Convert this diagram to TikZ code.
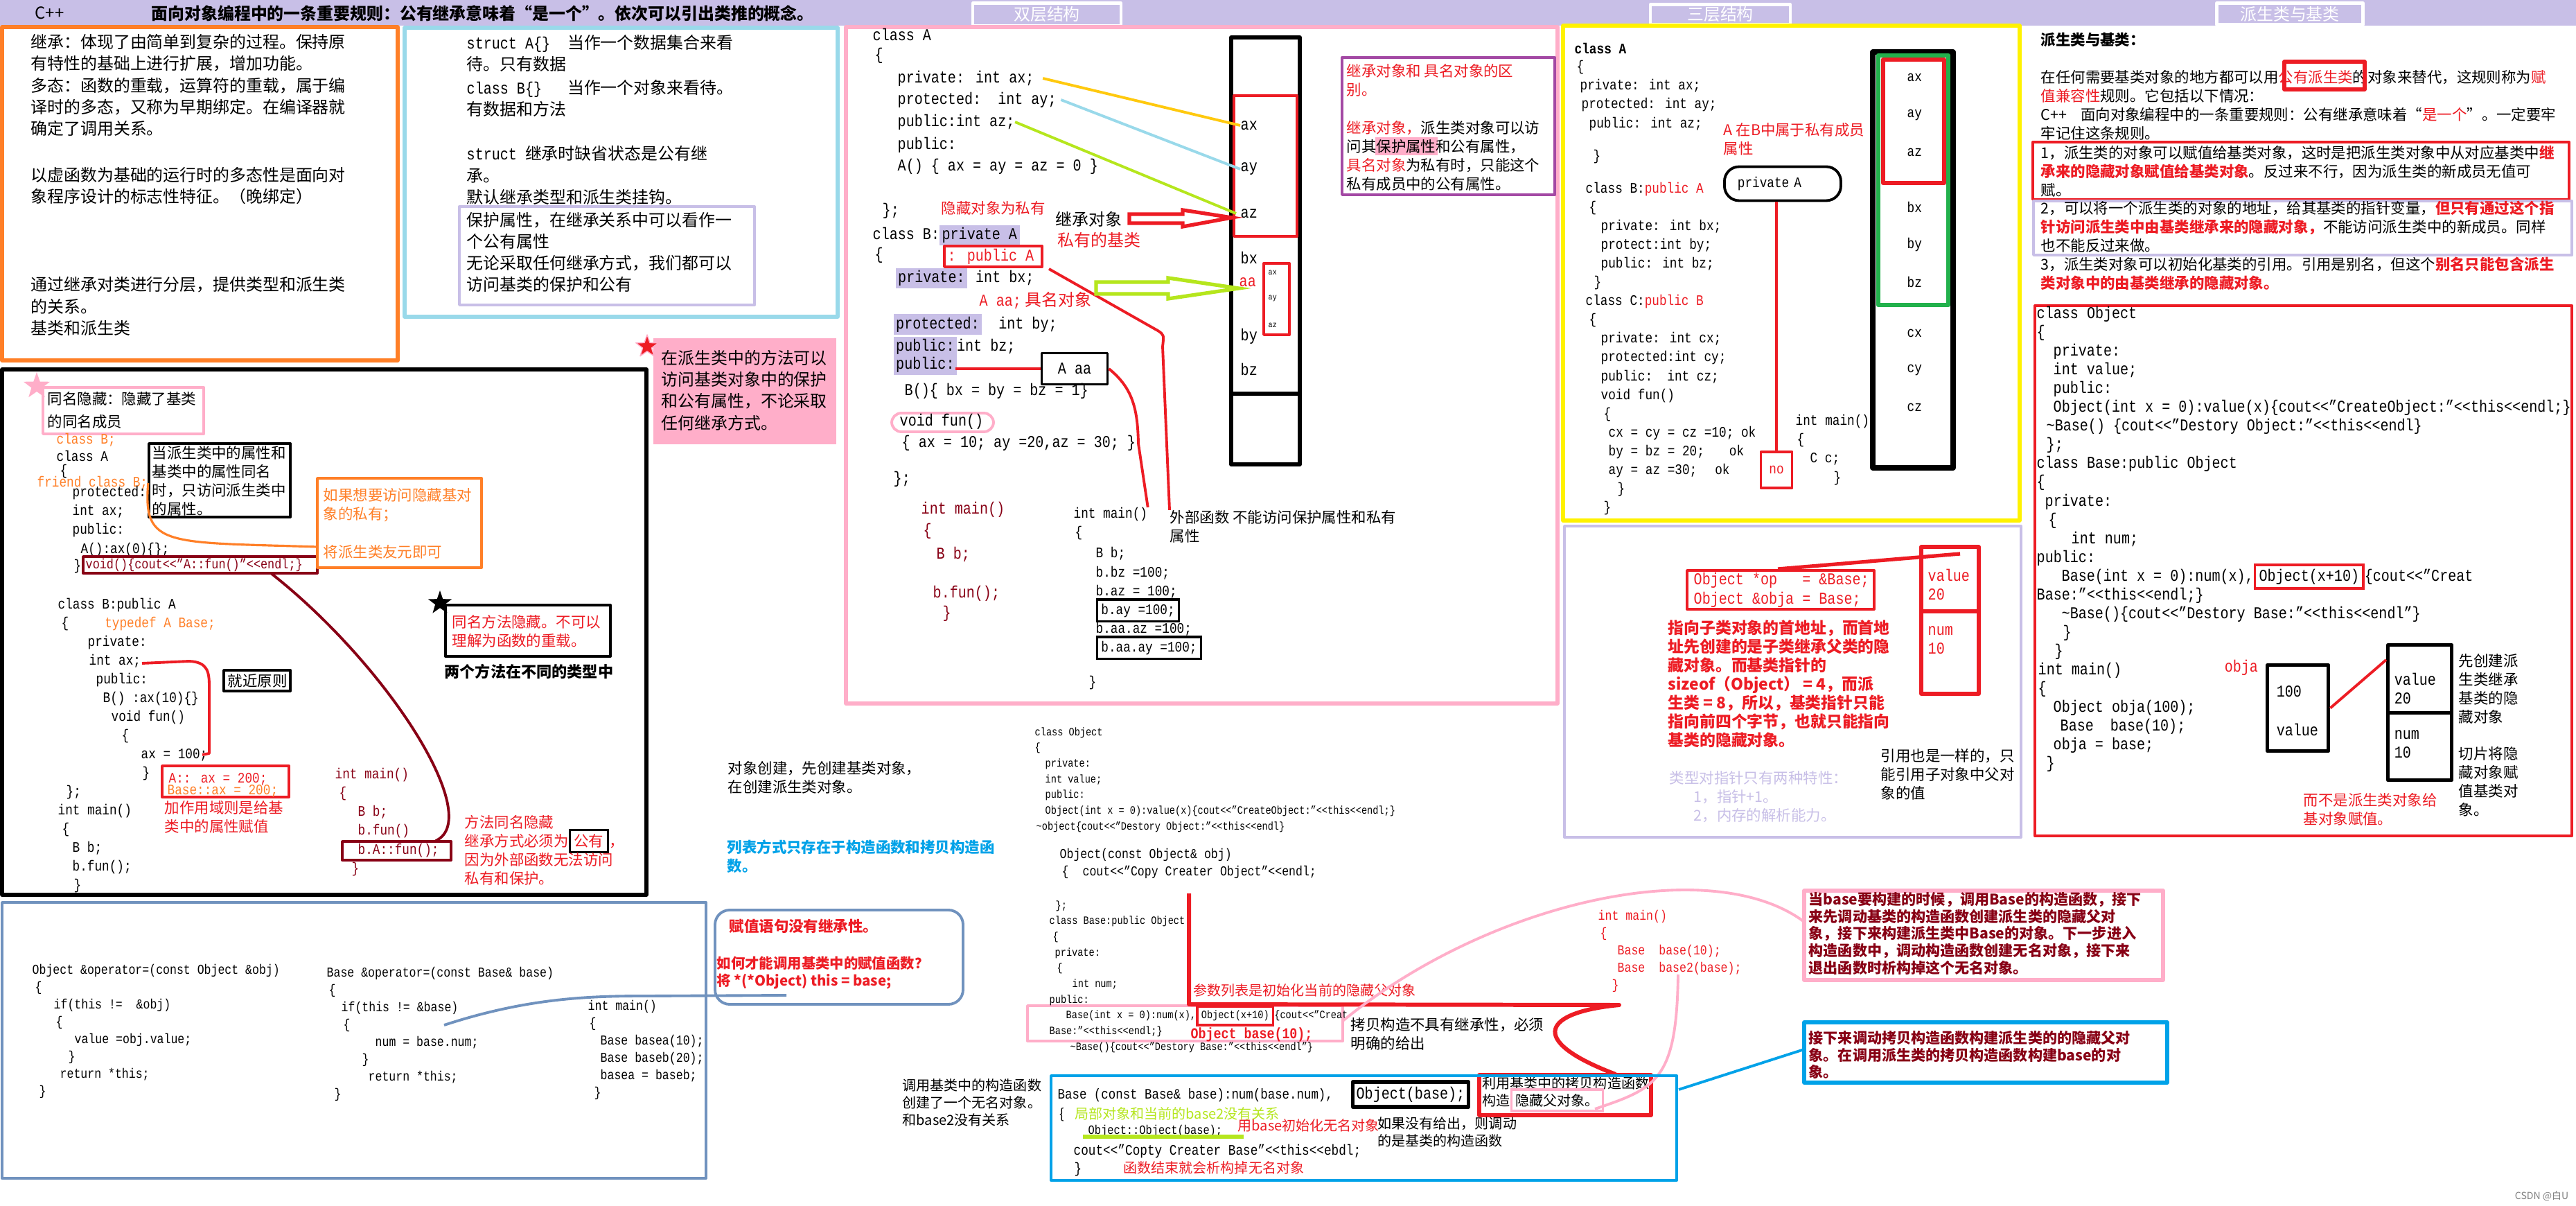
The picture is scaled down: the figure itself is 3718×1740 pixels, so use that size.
\documentclass[tikz,border=0pt]{standalone}
\usepackage{fontspec}
\setmainfont{Noto Sans CJK SC}
\newfontfamily\mono{Liberation Mono}[FakeStretch=0.84]
\usetikzlibrary{shapes.geometric}

\definecolor{clav}{HTML}{C8BFE7}
\definecolor{corange}{HTML}{FF7F27}
\definecolor{cltblue}{HTML}{99D9EA}
\definecolor{cpink}{HTML}{FFAEC9}
\definecolor{cred}{HTML}{ED1C24}
\definecolor{cdark}{HTML}{880015}
\definecolor{cyellow}{HTML}{FFF200}
\definecolor{cgreen}{HTML}{22B14C}
\definecolor{cpurple}{HTML}{A349A4}
\definecolor{cslate}{HTML}{7092BE}
\definecolor{csky}{HTML}{00A2E8}
\definecolor{clime}{HTML}{B5E61D}
\definecolor{cgold}{HTML}{FFC90E}

% text sizes, 1px = 0.1mm
\newcommand\fa{\fontsize{6.8}{8.9}\selectfont}
\newcommand\fb{\fontsize{6.1}{7.7}\selectfont}
\newcommand\fs{\fontsize{5.7}{7.1}\selectfont}
\newcommand\ca{\mono\fontsize{6.8}{8.9}\selectfont}
\newcommand\cb{\mono\fontsize{6.8}{7.7}\selectfont}
\newcommand\cc{\mono\fontsize{6.0}{7.7}\selectfont}
\newcommand\cd{\mono\fontsize{5.6}{7.1}\selectfont}
\newcommand\ce{\mono\fontsize{4.6}{6.45}\selectfont}
\newlength\pxu \setlength\pxu{0.1mm}
\newcommand\ind[1]{\hspace*{#1\pxu}}
\newcommand\LL{<\kern0pt<}
\newcommand\hl[2]{\smash{\setlength\fboxsep{1pt}\colorbox{#1}{#2}}}
\newcommand\frm[2]{\smash{\setlength\fboxsep{1.2pt}\setlength\fboxrule{1pt}\fcolorbox{#1}{white}{#2}}}

\begin{document}
\begin{tikzpicture}[x=0.1mm,y=-0.1mm,line join=round,
  every node/.style={inner sep=0pt,anchor=west,align=left},
  lwa/.style={line width=0.9pt},
  lwb/.style={line width=1.1pt},
  lwc/.style={line width=1.5pt},
  tab/.style={anchor=center,fill=clav,draw=white,line width=1.2pt,text=white,font=\fa},
  starmark/.style={star,star points=5,star point ratio=2.5,anchor=center,minimum size=#1},
  hollow/.style={lwc,line join=miter}]
\useasboundingbox (0,0) rectangle (3718,1740);
\fill[white] (0,0) rectangle (3718,1740);

% header bar
\fill[clav] (0,0) rectangle (3718,37);
\node[font=\fa] (cpp) at (50,19) {C++};
\node[font=\fa\bfseries] (title) at (218,19) {面向对象编程中的一条重要规则：公有继承意味着“是一个”。依次可以引出类推的概念。};
\node[tab,minimum width=21.4mm,minimum height=3.3mm] (tabtwo) at (1511,21) {双层结构};
\node[tab,minimum width=20.2mm,minimum height=2.9mm] (tabthree) at (2483,21) {三层结构};
\node[tab,minimum width=21.1mm,minimum height=3.1mm] (tabbase) at (3305,20) {派生类与基类};

% box 1
\draw[corange,lwc] (3,39) rectangle (574,520);
\node[font=\fa] (inherit) at (44,123) {继承：体现了由简单到复杂的过程。保持原\\有特性的基础上进行扩展，增加功能。\\多态：函数的重载，运算符的重载，属于编\\译时的多态，又称为早期绑定。在编译器就\\确定了调用关系。};
\node[font=\fa] (virtual) at (44,268) {以虚函数为基础的运行时的多态性是面向对\\象程序设计的标志性特征。（晚绑定）};
\node[font=\fa] (layers) at (44,442) {通过继承对类进行分层，提供类型和派生类\\的关系。\\基类和派生类};

% box 2
\draw[cltblue,lwc] (584,40) rectangle (1209,457);
\node[font=\fa] (structA) at (673,77) {{\mono struct A\{\}}\ind{25}当作一个数据集合来看\\待。只有数据};
\node[font=\fa] (classB) at (673,142) {{\mono class B\{\}}\ind{37}当作一个对象来看待。\\有数据和方法};
\node[font=\fa] (structinh) at (673,253) {{\mono struct }继承时缺省状态是公有继\\承。\\默认继承类型和派生类挂钩。};
\draw[clav,lwb] (663,298) rectangle (1089,440);
\node[font=\fa] (protattr) at (673,364) {保护属性，在继承关系中可以看作一\\个公有属性\\无论采取任何继承方式，我们都可以\\访问基类的保护和公有};

% pink note
\fill[cpink] (943,488) rectangle (1207,641);
\node[starmark=3.4mm,fill=cred,draw=cpink] (redstar) at (934,500) {};
\node[font=\fa] (methodacc) at (954,563) {在派生类中的方法可以\\访问基类对象中的保护\\和公有属性，不论采取\\任何继承方式。};

% name hiding
\draw[lwc] (3,533) rectangle (933,1291);
\node[starmark=4mm,fill=cpink] (pinkstar) at (53,557) {};
\draw[cpink,lwb] (62,559) rectangle (294,626);
\node[font=\fontsize{6.1}{9.2}\selectfont] (namehide) at (68,592) {同名隐藏：隐藏了基类\\的同名成员};
\node[font=\cc,text=corange] (fwdB) at (81,635) {class B;};
\node[font=\cc] (clsA) at (81,658) {class A};
\node[font=\cc] (clsAopen) at (86,680) {\{};
\node[font=\cc,text=corange] (friendB) at (53,697) {friend class B;};
\node[font=\cc] (clsAbody) at (104,752) {protected:\\int ax;\\public:\\\ind{12}A():ax(0)\{\};};
\node[font=\cc] (clsAend) at (106,817) {\}};
\draw[cdark,lwb] (120,803) rectangle (458,827);
\node[font={\mono\fontsize{5.7}{7}\selectfont},text=cdark] (voidA) at (123,815) {void()\{cout\LL”A::fun()”\LL endl;\}};
\draw[lwb] (215,640) rectangle (419,746);
\node[font=\fb] (samename) at (219,694) {当派生类中的属性和\\基类中的属性同名\\时，只访问派生类中\\的属性。};
\draw[corange,lwb] (458,690) rectangle (695,819);
\node[font=\fb,text=corange] (friendtip) at (466,729) {如果想要访问隐藏基对\\象的私有；};
\node[font=\fb,text=corange] (friendok) at (466,796) {将派生类友元即可};
\draw[corange,lwa] (friendB.east) .. controls (206,790) and (240,782) .. (458,789);

\node[starmark=3.6mm,fill=black] (blackstar) at (635,870) {};
\draw[lwb] (643,873) rectangle (881,947);
\node[font=\fb,text=cred] (methodhide) at (652,911) {同名方法隐藏。不可以\\理解为函数的重载。};
\node[font=\fontsize{6.3}{7.7}\selectfont\bfseries] (twomethods) at (641,969) {两个方法在不同的类型中};

\node[font=\cc] (clsB) at (83,1008) {class B:public A\\\ind{5}\{\ind{52}\textcolor{corange}{typedef A Base;}\\\ind{43}private:\\\ind{45}int ax;\\\ind{55}public:\\\ind{65}B() :ax(10)\{\}\\\ind{77}void fun()\\\ind{92}\{\\\ind{120}ax = 100;\\\ind{122}\}\\\ind{12}\};};
\draw[lwb] (323,967) rectangle (419,997);
\node[font=\fb] (nearest) at (328,982) {就近原则};
\draw[cred,lwb] (205,957) -- (273,954) .. controls (300,955) and (302,970) .. (302,990) -- (302,1087) -- (292,1089);
\draw[cred,lwb] (234,1105) rectangle (417,1150);
\node[font=\cc,text=cred] (scopeA) at (243,1124) {A:: ax = 200;};
\node[font=\cc,text=corange] (scopeBase) at (241,1141) {Base::ax = 200;};
\node[font=\fb,text=cred] (scopenote) at (237,1179) {加作用域则是给基\\类中的属性赋值};
\node[font=\cc] (mainB) at (83,1224) {int main()\\\ind{6}\{\\\ind{21}B b;\\\ind{21}b.fun();\\\ind{23}\}};
\node[font=\cc,text=cdark] (mainA) at (483,1186) {int main()\\\ind{6}\{\\\ind{33}B b;\\\ind{33}b.fun()\\\ind{33}b.A::fun();\\\ind{24}\}};
\draw[cdark,lwb] (494,1214) rectangle (651,1241);
\draw[cdark,lwb] (391,827) .. controls (560,960) and (700,1180) .. (629,1213);
\node[font=\fb,text=cred] (pubnote) at (670,1227) {方法同名隐藏\\继承方式必须为\frm{black}{\textcolor{cred}{公有}}，\\因为外部函数无法访问\\私有和保护。};

% assignment operators
\draw[cslate,lwb] (3,1302) rectangle (1019,1700);
\node[font=\cd] (opObj) at (46,1488) {Object \&operator=(const Object \&obj)\\\ind{4}\{\\\ind{31}if(this != \ \&obj)\\\ind{34}\{\\\ind{61}value =obj.value;\\\ind{52}\}\\\ind{40}return *this;\\\ind{10}\}};
\node[font=\cd] (opBase) at (471,1492) {Base \&operator=(const Base\& base)\\\ind{3}\{\\\ind{21}if(this != \&base)\\\ind{24}\{\\\ind{70}num = base.num;\\\ind{51}\}\\\ind{60}return *this;\\\ind{11}\}};
\node[font=\cd] (mainAssign) at (848,1515) {int main()\\\ind{2}\{\\\ind{18}Base basea(10);\\\ind{18}Base baseb(20);\\\ind{18}basea = baseb;\\\ind{9}\}};
\draw[cslate,lwb,rounded corners=6pt] (1032,1313) rectangle (1390,1449);
\node[font=\fb\bfseries,text=cred] (noinherit) at (1052,1336) {赋值语句没有继承性。};
\node[font=\fontsize{5.8}{7.1}\selectfont\bfseries,text=cred] (howcall) at (1034,1404) {如何才能调用基类中的赋值函数？\\将 *(*Object) this = base;};
\draw[cslate,lwb] (641,1479) .. controls (760,1440) and (850,1437) .. (930,1437) -- (1135,1436);

% two-layer structure
\draw[cpink,lwc] (1221,39) rectangle (2248,1015);
\node[font=\ca] (Aclass) at (1259,50) {class A};
\node[font=\ca] (Aopen) at (1262,80) {\{};
\node[font=\ca] (Aax) at (1295,113) {private: int ax;};
\node[font=\ca] (Aay) at (1295,144) {protected:\ \ int ay;};
\node[font=\ca] (Aaz) at (1295,176) {public:int az;};
\node[font=\ca] (Apub) at (1295,225) {public:\\A() \{ ax = ay = az = 0 \}};
\node[font=\ca] (Aend) at (1273,304) {\};};
\node[font=\fb,text=cred] (hidepriv) at (1358,300) {隐藏对象为私有};
\node[font=\ca] (Bclass) at (1259,337) {class B:\hl{clav}{private A}};
\node[font=\ca] (Bopen) at (1262,368) {\{};
\draw[cred,lwb] (1363,355) rectangle (1504,385);
\node[font=\ca,text=cred] (Bpub) at (1367,370) {: public A};
\node[font=\ca] (Bbx) at (1292,401) {\hl{clav}{private:} int bx;};
\node[font=\fa,text=cred] (aaname) at (1413,434) {{\mono A aa;} 具名对象};
\node[font=\ca] (Bby) at (1289,468) {\hl{clav}{protected:}\ \ int by;};
\node[font=\ca] (Bbz) at (1289,500) {\hl{clav}{public:}int bz;};
\node[font=\ca] (Bpub2) at (1289,533) {\hl{clav}{public:}};
\node[draw,lwb,font=\ca,minimum width=9.5mm,minimum height=4.5mm,anchor=center] (aabox) at (1551,532) {A aa};
\draw[cred,lwb] (1379,532) -- (aabox.west);
\node[font=\ca] (Bctor) at (1305,564) {B()\{ bx = by = bz = 1\}};
\draw[cpink,lwb,rounded corners=4pt] (1287,596) rectangle (1434,623);
\node[font=\ca] (Bfun) at (1298,608) {void fun()};
\node[font=\ca] (Bfunbody) at (1301,639) {\{ ax = 10; ay =20,az = 30; \}};
\node[font=\ca] (Bend) at (1289,691) {\};};
\node[font=\ca,text=cdark] (mainfun) at (1329,751) {int main()\\\ind{3}\{};
\node[font=\ca,text=cdark] (mainfunb) at (1351,800) {B b;};
\node[font=\ca,text=cdark] (mainfunc) at (1346,856) {b.fun();};
\node[font=\ca,text=cdark] (mainfund) at (1360,885) {\}};
\node[font=\cc] (mainacc) at (1549,756) {int main()\\\ind{2}\{};
\node[font=\cc] (accbody) at (1581,865) {B b;\\b.bz =100;\\b.az = 100;\\\frm{black}{b.ay =100;}\\b.aa.az =100;\\\frm{black}{b.aa.ay =100;}};
\node[font=\cc] (accend) at (1571,985) {\}};
\node[font=\fb] (outside) at (1688,760) {外部函数 不能访问保护属性和私有\\属性};
\draw[cred,lwb] (1514,388) -- (1671,477) .. controls (1680,483) .. (1678,500) -- (outside.north west);
\draw[cred,lwb] (aabox.east) .. controls (1635,560) and (1642,590) .. (1643,640) -- (mainacc.north east);

% two-layer memory
\draw[line width=1.7pt] (1777,54) rectangle (1876,670);
\draw[line width=1.7pt] (1777,568) -- (1876,568);
\draw[cred,lwb] (1781,138) rectangle (1872,341);
\foreach \lab/\yy in {ax/181,ay/244,az/308,bx/372,by/485,bz/533}
  \node[font=\ca] (mem\lab) at (1790,\yy) {\lab};
\node[font=\ca,text=cred] (memaa) at (1788,407) {aa};
\draw[cred,lwb] (1824,380) rectangle (1861,483);
\foreach \lab/\yy in {ax/393,ay/431,az/469}
  \node[font={\mono\fontsize{3.4}{4}\selectfont}] (sub\lab) at (1830,\yy) {\lab};
\draw[cgold,lwb] ([xshift=1.2mm]Aax.east) -- (memax.west);
\draw[cltblue,lwb] ([xshift=0.6mm]Aay.east) -- (memay.west);
\draw[clime,lwb] (Aaz.east) -- ([xshift=-0.6mm]memaz.west);
\draw[cred,hollow] (1630,309) -- (1707,309) -- (1707,303) -- (1778,314) -- (1707,327) -- (1707,322) -- (1630,322) -- cycle;
\draw[clime,hollow] (1582,407) -- (1686,407) -- (1686,401) -- (1788,416) -- (1686,431) -- (1686,424) -- (1582,424) -- cycle;
\node[font=\fa] (inhobj) at (1523,316) {继承对象};
\node[font=\fa,text=cred] (privbase) at (1526,346) {私有的基类};

% inherited vs named object
\draw[cpurple,lwb] (1937,83) rectangle (2244,281);
\node[font=\fb,text=cred] (diffA) at (1943,116) {继承对象和 具名对象的区\\别。};
\fill[cpink] (1985,198) rectangle (2075,224);
\node[font=\fb] (diffB) at (1943,225) {\textcolor{cred}{继承对象，}派生类对象可以访\\问其保护属性和公有属性，\\\textcolor{cred}{具名对象}为私有时，只能这个\\私有成员中的公有属性。};

% three-layer structure
\draw[cyellow,lwc] (2256,37) rectangle (2915,751);
\node[font={\cc\bfseries}] (tA) at (2272,70) {class A};
\node[font=\cc] (tAbody) at (2275,138) {\{\\\ind{5}private: int ax;\\\ind{7}protected: int ay;\\\ind{18}public: int az;};
\node[font=\cc] (tAend) at (2299,226) {\}};
\node[font=\fb,text=cred] (tAnote) at (2487,201) {A 在B中属于私有成员\\属性};
\node[draw,lwb,rounded corners=6pt,minimum height=4.9mm,inner xsep=1.9mm,text width=13mm,font=\cc] (privA) at (2487,265) {private A};
\node[font=\cc] (tBC) at (2288,503) {class B:\textcolor{cred}{public A}\\\ind{5}\{\\\ind{22}private: int bx;\\\ind{22}protect:int by;\\\ind{22}public: int bz;\\\ind{12}\}\\class C:\textcolor{cred}{public B}\\\ind{5}\{\\\ind{22}private: int cx;\\\ind{22}protected:int cy;\\\ind{22}public:\ \ int cz;\\\ind{22}void fun()\\\ind{26}\{\\\ind{33}cx = cy = cz =10; ok\\\ind{33}by = bz = 20;\ind{36}ok\\\ind{33}ay = az =30;\ind{26}ok\\\ind{46}\}\\\ind{26}\}};
\node[draw=cred,lwb,minimum width=4.5mm,minimum height=5.2mm,anchor=center,text=cred,font=\cc] (nobox) at (2564,678) {no};
\draw[cred,lwa] (privA.south -| nobox.north) -- (nobox.north);
\node[font=\cc] (tmain) at (2591,649) {int main()\\\ind{2}\{\\\ind{21}C c;\\\ind{55}\}};
\draw[line width=2.3pt] (2703,75) rectangle (2819,675);
\draw[cgreen,line width=1.9pt] (2711,80) rectangle (2812,440);
\draw[cred,line width=1.9pt] (2718,86) rectangle (2806,264);
\foreach \lab/\yy in {ax/112,ay/166,az/220,bx/299,by/353,bz/407,cx/481,cy/534,cz/588}
  \node[font=\cc] (lay\lab) at (2752,\yy) {\lab};

% pointer and reference
\draw[clav,lwb] (2258,759) rectangle (2917,1208);
\draw[cred,lwb] (2435,823) rectangle (2705,879);
\node[font={\mono\fontsize{6.8}{8}\selectfont},text=cred] (ptrdecl) at (2444,851) {Object *op\ \ \ = \&Base;\\Object \&obja = Base;};
\draw[cred,lwc] (2773,789) rectangle (2856,1001);
\draw[cred,lwc] (2773,882) -- (2856,882);
\node[font=\cb,text=cred] (pval) at (2782,843) {value\\20};
\node[font=\cb,text=cred] (pnum) at (2782,924) {num\\10};
\draw[cred,lwc] (2566,821) -- (2829,799);
\node[font=\fontsize{6.5}{7.7}\selectfont\bfseries,text=cred] (ptrnote) at (2407,987) {指向子类对象的首地址，而首地\\址先创建的是子类继承父类的隐\\藏对象。而基类指针的\\sizeof（Object） = 4，而派\\生类 = 8，所以，基类指针只能\\指向前四个字节，也就只能指向\\基类的隐藏对象。};
\node[font=\fb,text=clav] (ptrtraits) at (2409,1150) {类型对指针只有两种特性：\\\ind{35}1，指针+1。\\\ind{35}2，内存的解析能力。};
\node[font=\fb] (refnote) at (2714,1117) {引用也是一样的，只\\能引用子对象中父对\\象的值};

% derived and base class
\node[font=\fb\bfseries] (dbtitle) at (2945,57) {派生类与基类：};
\node[font=\fb] (compat) at (2945,152) {在任何需要基类对象的地方都可以用\textcolor{cred}{公有派生类}的对象来替代，这规则称为\textcolor{cred}{赋}\\\textcolor{cred}{值兼容性}规则。它包括以下情况：\\C++\ind{20}面向对象编程中的一条重要规则：公有继承意味着“\textcolor{cred}{是一个}”。一定要牢\\牢记住这条规则。};
\draw[cred,lwc] (3297,89) rectangle (3413,129);
\draw[cred,lwb] (2934,205) rectangle (3708,288);
\node[font=\fb] (rule1) at (2945,247) {1，派生类的对象可以赋值给基类对象，这时是把派生类对象中从对应基类中\textcolor{cred}{\bfseries 继}\\\textcolor{cred}{\bfseries 承来的隐藏对象赋值给基类对象}。反过来不行，因为派生类的新成员无值可\\赋。};
\draw[clav,lwb] (2935,290) rectangle (3712,368);
\node[font=\fb] (rule2) at (2945,327) {2，可以将一个派生类的对象的地址，给其基类的指针变量，\textcolor{cred}{\bfseries 但只有通过这个指}\\\textcolor{cred}{\bfseries 针访问派生类中由基类继承来的隐藏对象，}不能访问派生类中的新成员。同样\\也不能反过来做。};
\node[font=\fb] (rule3) at (2945,395) {3，派生类对象可以初始化基类的引用。引用是别名，但这个\textcolor{cred}{\bfseries 别名只能包含派生}\\\textcolor{cred}{\bfseries 类对象中的由基类继承的隐藏对象。}};
\draw[cred,lwb] (2937,441) rectangle (3712,1206);
\node[font=\cb] (objcode) at (2939,778) {class Object\\\{\\\ind{24}private:\\\ind{24}int value;\\\ind{24}public:\\\ind{24}Object(int x = 0):value(x)\{cout\LL”CreateObject:”\LL this\LL endl;\}\\\ind{14}\textasciitilde Base() \{cout\LL”Destory Object:”\LL this\LL endl\}\\\ind{14}\};\\class Base:public Object\\\{\\\ind{12}private:\\\ind{17}\{\\\ind{50}int num;\\public:\\\ind{36}Base(int x = 0):num(x),\frm{cred}{Object(x+10)}\{cout\LL”Creat\\Base:”\LL this\LL endl;\}\\\ind{36}\textasciitilde Base()\{cout\LL”Destory Base:”\LL this\LL endl”\}\\\ind{38}\}\\\ind{26}\}\\\ind{2}int main()\\\ind{2}\{\\\ind{24}Object obja(100);\\\ind{34}Base\ind{24}base(10);\\\ind{24}obja = base;\\\ind{14}\}};
\node[font=\cb,text=cred] (objalabel) at (3210,963) {obja};
\node[draw,lwc,minimum width=8.8mm,minimum height=12.4mm,anchor=north west] (objabox) at (3270,957) {};
\node[font=\cb] (objaval) at (3285,998) {100};
\node[font=\cb] (objaname) at (3285,1053) {value};
\node[draw,lwc,minimum width=9.2mm,minimum height=9.8mm,anchor=north west] (slicetop) at (3444,928) {};
\node[draw,lwc,minimum width=9.2mm,minimum height=9.7mm,anchor=north west] (slicebot) at (3444,1026) {};
\node[font=\cb] (sval) at (3455,993) {value\\20};
\node[font=\cb] (snum) at (3455,1074) {num\\10};
\draw[cred,lwb] (objabox.east) -- ([yshift=-2.4mm]slicetop.north west);
\node[font=\fb] (slicea) at (3548,994) {先创建派\\生类继承\\基类的隐\\藏对象};
\node[font=\fb] (sliceb) at (3548,1128) {切片将隐\\藏对象赋\\值基类对\\象。};
\node[font=\fb,text=cred] (notderived) at (3324,1168) {而不是派生类对象给\\基对象赋值。};

% construction order
\node[font=\fb] (ctororder) at (1050,1122) {对象创建，先创建基类对象，\\在创建派生类对象。};
\node[font=\fb\bfseries,text=csky] (listinit) at (1049,1236) {列表方式只存在于构造函数和拷贝构造函\\数。};
\node[font=\ce] (smallA) at (1493,1125) {class Object\\\{\\\ind{15}private:\\\ind{15}int value;\\\ind{15}public:\\\ind{15}Object(int x = 0):value(x)\{cout\LL”CreateObject:”\LL this\LL endl;\}\\\ind{2}\textasciitilde object\{cout\LL”Destory Object:”\LL this\LL endl\}};
\node[font=\cd] (smallCopy) at (1529,1246) {Object(const Object\& obj)\\\ind{3}\{\ind{20}cout\LL”Copy Creater Object”\LL endl;};
\draw[cpink,lwb] (1483,1451) rectangle (1938,1502);
\node[font=\ce] (smallB) at (1514,1409) {\ind{9}\};\\class Base:public Object\\\ind{5}\{\\\ind{8}private:\\\ind{11}\{\\\ind{33}int num;\\public:\\\ind{24}Base(int x = 0):num(x),\frm{cred}{Object(x+10)}\{cout\LL”Creat\\Base:”\LL this\LL endl;\}\\\ind{30}\textasciitilde Base()\{cout\LL”Destory Base:”\LL this\LL endl”\}};
\node[font={\mono\bfseries\fontsize{6.2}{7}\selectfont},text=cred] (objbase) at (1718,1493) {Object base(10);};
\node[font=\fs,text=cred] (paramnote) at (1722,1429) {参数列表是初始化当前的隐藏父对象};
\draw[cred,line width=1.7pt] (1716,1289) -- (1716,1449) -- (2337,1450) .. controls (2230,1460) and (2200,1500) .. (2332,1550);
\node[font=\fb] (copynotinh) at (1949,1492) {拷贝构造不具有继承性，必须\\明确的给出};
\node[font=\cd,text=cred] (mainbase) at (2306,1372) {int main()\\\ind{3}\{\\\ind{28}Base\ind{20}base(10);\\\ind{28}Base\ind{20}base2(base);\\\ind{20}\}};
\draw[cred,lwc] (2135,1551) rectangle (2383,1609);
\node[font=\fs] (copyuse) at (2139,1575) {利用基类中的拷贝构造函数\\构造\frm{cpink}{隐藏父对象。}};
\draw[cpink,lwb] (2422,1406) .. controls (2420,1560) and (2390,1570) .. (2302,1600);
\node[font=\fs] (unnamed) at (1302,1591) {调用基类中的构造函数\\创建了一个无名对象。\\和base2没有关系};

% copy constructor
\draw[csky,lwb] (1517,1552) rectangle (2420,1703);
\node[font={\mono\fontsize{5.9}{7}\selectfont}] (copyctor) at (1526,1580) {Base (const Base\& base):num(base.num),};
\node[draw,lwc,font=\ca,minimum height=3.6mm,inner xsep=0.5mm] (objbasebox) at (1950,1579) {Object(base);};
\node[font=\fs] (localnote) at (1529,1608) {\{\ind{15}\textcolor{clime}{局部对象和当前的base2没有关系}};
\node[font={\mono\fontsize{5.2}{6}\selectfont}] (objobj) at (1570,1632) {Object::Object(base);};
\draw[clime,lwc] (1563,1640) -- (1795,1640);
\node[font=\fs,text=cred] (initnote) at (1786,1624) {用base初始化无名对象};
\node[font=\fs] (ifnot) at (1988,1633) {如果没有给出，则调动\\的是基类的构造函数};
\node[font=\cc] (coutcopy) at (1549,1661) {cout\LL”Copty Creater Base”\LL this\LL ebdl;};
\node[font=\cc] (copyend) at (1550,1687) {\}};
\node[font=\fs,text=cred] (dtornote) at (1621,1685) {函数结束就会析构掉无名对象};

% notes on the right
\draw[cpink,lwc] (2604,1285) rectangle (3122,1414);
\node[font=\fontsize{6}{7.1}\selectfont\bfseries,text=cdark] (basebuild) at (2610,1347) {当base要构建的时候，调用Base的构造函数，接下\\来先调动基类的构造函数创建派生类的隐藏父对\\象，接下来构建派生类中Base的对象。下一步进入\\构造函数中，调动构造函数创建无名对象，接下来\\退出函数时析构掉这个无名对象。};
\draw[cpink,lwb] (1938,1473) .. controls (2150,1300) and (2470,1230) .. (2604,1330);
\draw[csky,lwc] (2604,1475) rectangle (3128,1562);
\node[font=\fontsize{6}{7.1}\selectfont\bfseries,text=cdark] (copybuild) at (2610,1522) {接下来调动拷贝构造函数构建派生类的的隐藏父对\\象。在调用派生类的拷贝构造函数构建base的对\\象。};
\draw[csky,lwb] (2423,1572) -- (2604,1514);

\node[font=\fontsize{4}{5}\selectfont,text=gray,anchor=east] (mark) at (3708,1726) {CSDN @白U};
\end{tikzpicture}
\end{document}
